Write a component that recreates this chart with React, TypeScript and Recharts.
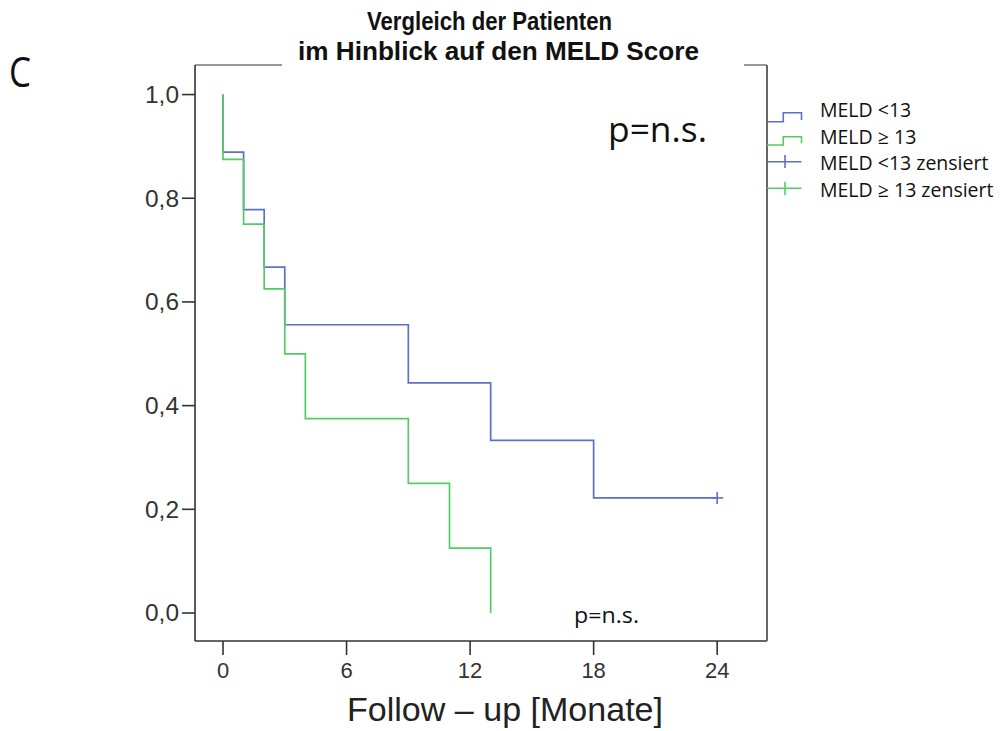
import React from 'react';
import { ComposedChart, Line, XAxis, YAxis } from 'recharts';

// ---- texts ----
const titleLines = ['Vergleich der Patienten', 'im Hinblick auf den MELD Score'];
const panelLabel = 'C';
const pValueLabel = 'p=n.s.';
const xAxisLabel = 'Follow – up [Monate]';
const seriesNames = ['MELD <13', 'MELD ≥ 13'];
const censoredNames = ['MELD <13 zensiert', 'MELD ≥ 13 zensiert'];

// ---- axes ----
const xTicks = [0, 6, 12, 18, 24];
const yTicks = [0, 0.2, 0.4, 0.6, 0.8, 1.0];
const xDomain = [-1.36, 26.42];
const yDomain = [-0.054, 1.057];

// ---- series: MELD < 13 ----
const meldLowMonths = [0, 0, 1, 2, 3, 9, 13, 18, 24];
const meldLowSurvival = [1, 0.889, 0.778, 0.667, 0.556, 0.444, 0.333, 0.222, 0.222];
const meldLowCensored = [false, false, false, false, false, false, false, false, true];

// ---- series: MELD >= 13 ----
const meldHighMonths = [0, 0, 1, 2, 3, 4, 9, 11, 13];
const meldHighSurvival = [1, 0.875, 0.75, 0.625, 0.5, 0.375, 0.25, 0.125, 0];
const meldHighCensored = [false, false, false, false, false, false, false, false, false];

const BLUE = '#5b70c8';
const GREEN = '#55cc63';

const build = (m: number[], s: number[], c: boolean[]) =>
  m.map((t, i) => ({ t, s: s[i], censored: c[i] }));

const lowData = build(meldLowMonths, meldLowSurvival, meldLowCensored);
const highData = build(meldHighMonths, meldHighSurvival, meldHighCensored);

const censorDot = (color: string) => (props: any) => {
  const { cx, cy, payload, index } = props;
  if (!payload || !payload.censored || cx == null || cy == null) {
    return <g key={`n-${index}`} />;
  }
  return (
    <g key={`c-${index}`}>
      <line x1={cx - 6} x2={cx + 6} y1={cy} y2={cy} stroke={color} strokeWidth={1.6} />
      <line x1={cx} x2={cx} y1={cy - 6} y2={cy + 6} stroke={color} strokeWidth={1.6} />
    </g>
  );
};

const FONT = 'Liberation Sans, Arial, sans-serif';

const YTick = (props: any) => {
  const { x, y, payload } = props;
  const label = Number(payload.value).toFixed(1).replace('.', ',');
  return (
    <text x={x - 34} y={y} dy="0.36em" textLength={34} lengthAdjust="spacingAndGlyphs"
      fontFamily={FONT} fontSize={23} fill="#333">
      {label}
    </text>
  );
};

const XTick = (props: any) => {
  const { x, y, payload } = props;
  return (
    <text x={x} y={y} dy="0.71em" textAnchor="middle" fontFamily={FONT} fontSize={22} fill="#333">
      {String(payload.value)}
    </text>
  );
};

export default function App() {
  return (
    <div style={{ position: 'absolute', left: 0, top: 0, width: 1006, height: 731, background: '#fff' }}>
      <ComposedChart width={1006} height={731} margin={{ top: 64, right: 238, bottom: 50, left: 135 }}>
        <XAxis
          xAxisId="b"
          dataKey="t"
          type="number"
          domain={xDomain}
          ticks={xTicks}
          allowDataOverflow
          height={40}
          tickSize={14}
          tickMargin={7}
          tick={<XTick />}
          axisLine={{ stroke: '#333', strokeWidth: 1.6 }}
          tickLine={{ stroke: '#333', strokeWidth: 1.6 }}
        />
        <XAxis
          xAxisId="t"
          orientation="top"
          type="number"
          domain={xDomain}
          allowDataOverflow
          height={1}
          ticks={[]}
          tick={false}
          tickLine={false}
          axisLine={{ stroke: '#999', strokeWidth: 2 }}
        />
        <YAxis
          yAxisId="l"
          type="number"
          domain={yDomain}
          ticks={yTicks}
          allowDataOverflow
          width={60}
          tickSize={13}
          tickMargin={3}
          tick={<YTick />}
          axisLine={{ stroke: '#333', strokeWidth: 1.6 }}
          tickLine={{ stroke: '#333', strokeWidth: 1.6 }}
        />
        <YAxis
          yAxisId="r"
          orientation="right"
          type="number"
          domain={yDomain}
          allowDataOverflow
          width={1}
          ticks={[]}
          tick={false}
          tickLine={false}
          axisLine={{ stroke: '#666', strokeWidth: 2 }}
        />
        <Line
          xAxisId="b"
          yAxisId="l"
          data={lowData}
          dataKey="s"
          name={seriesNames[0]}
          type="stepAfter"
          stroke={BLUE}
          strokeWidth={1.7}
          dot={censorDot(BLUE)}
          activeDot={false}
          isAnimationActive={false}
        />
        <Line
          xAxisId="b"
          yAxisId="l"
          data={highData}
          dataKey="s"
          name={seriesNames[1]}
          type="stepAfter"
          stroke={GREEN}
          strokeWidth={1.7}
          dot={censorDot(GREEN)}
          activeDot={false}
          isAnimationActive={false}
        />
      </ComposedChart>
      <svg
        width={1006}
        height={731}
        style={{ position: 'absolute', left: 0, top: 0, pointerEvents: 'none' }}
      >
        {/* title with white background covering the frame top */}
        <rect x={282} y={36} width={462} height={31} fill="#fff" />
        <text x={367} y={30} textLength={245} lengthAdjust="spacingAndGlyphs"
          fontFamily={FONT} fontWeight="bold" fontSize={26} fill="#111">
          {titleLines[0]}
        </text>
        <text x={298} y={60} textLength={401} lengthAdjust="spacingAndGlyphs"
          fontFamily={FONT} fontWeight="bold" fontSize={26} fill="#111">
          {titleLines[1]}
        </text>
        {/* panel letter */}
        <text x={9} y={87} textLength={22} lengthAdjust="spacingAndGlyphs"
          fontFamily="Open Sans, sans-serif" fontSize={42} fill="#111">{panelLabel}</text>
        {/* p values */}
        <text x={608} y={142} textLength={99} lengthAdjust="spacingAndGlyphs"
          fontFamily="Open Sans, sans-serif" fontSize={35} fill="#111">{pValueLabel}</text>
        <text x={574} y={623} textLength={65} lengthAdjust="spacingAndGlyphs"
          fontFamily="Open Sans, sans-serif" fontSize={21} fill="#111">{pValueLabel}</text>
        {/* x axis label */}
        <text x={347} y={721} textLength={316} lengthAdjust="spacingAndGlyphs"
          fontFamily={FONT} fontSize={34} fill="#222">{xAxisLabel}</text>
        {/* legend */}
        <path d="M767,121.7 H783.3 V112.7 H801.5 V120" fill="none" stroke={BLUE} strokeWidth={1.6} />
        <path d="M767,145 H783.3 V136.7 H801.5 V143.3" fill="none" stroke={GREEN} strokeWidth={1.6} />
        <path d="M767,161.7 H801.5 M785,155 V168" fill="none" stroke={BLUE} strokeWidth={1.6} />
        <path d="M767,188.3 H801.5 M785,181.7 V195" fill="none" stroke={GREEN} strokeWidth={1.6} />
        {[seriesNames[0], seriesNames[1], censoredNames[0], censoredNames[1]].map((n, i) => (
          <text key={n} x={820} y={117 + i * 26.5} fontFamily="Open Sans, sans-serif" fontSize={19.5} fill="#111">
            {n}
          </text>
        ))}
      </svg>
    </div>
  );
}
